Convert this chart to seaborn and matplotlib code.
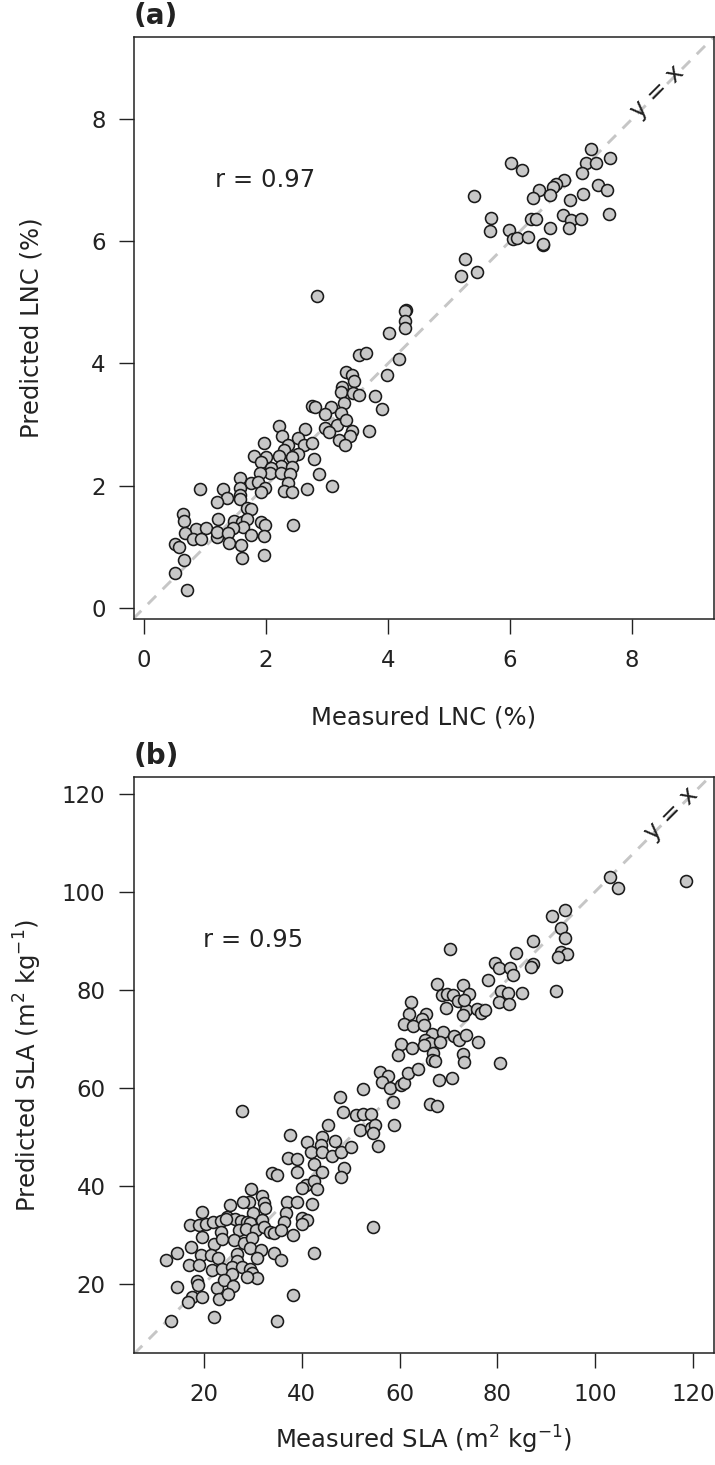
import matplotlib
matplotlib.use("Agg")
import matplotlib.pyplot as plt
import seaborn as sns
import pandas as pd

# Leaf nitrogen content (%): measured vs predicted
lnc_measured = [
    6.02, 6.20, 7.32, 7.24, 7.41, 7.63, 7.17, 6.89, 6.75, 6.71, 6.47, 6.37, 6.65, 6.98,
    7.19, 7.44, 7.58, 5.41, 5.69, 5.67, 5.98, 6.04, 6.11, 6.29, 6.53, 6.53, 6.34, 6.43,
    6.65, 6.87, 6.99, 6.97, 7.16, 7.62, 5.26, 5.19, 5.46, 2.84, 4.30, 4.27, 4.27, 4.27,
    4.01, 3.52, 3.63, 4.18, 3.98, 3.31, 3.41, 3.44, 3.24, 3.22, 3.43, 3.52, 3.78, 3.90,
    3.27, 2.75, 2.81, 3.06, 2.97, 3.23, 3.16, 3.31, 2.97, 3.03, 3.41, 3.38, 3.69, 3.19,
    3.29, 2.21, 2.26, 2.64, 1.96, 2.53, 2.36, 2.30, 2.62, 2.76, 2.53, 1.80, 2.00, 1.91,
    2.21, 2.24, 2.42, 2.43, 2.79, 2.08, 2.06, 1.90, 2.24, 2.40, 2.86, 1.57, 1.76, 1.87,
    2.36, 1.58, 1.99, 1.91, 0.92, 1.30, 2.30, 2.42, 2.67, 3.08, 1.36, 1.20, 1.58, 1.58,
    1.68, 1.75, 0.64, 0.65, 1.21, 1.48, 1.61, 1.69, 1.63, 1.92, 1.99, 2.44, 0.86, 1.02,
    0.68, 0.81, 0.94, 1.19, 1.20, 1.46, 1.38, 1.76, 1.96, 1.39, 1.59, 0.51, 0.58, 0.66,
    1.60, 1.96, 0.50, 0.70,
]
lnc_predicted = [
    7.27, 7.16, 7.51, 7.28, 7.28, 7.36, 7.12, 7.00, 6.93, 6.88, 6.84, 6.70, 6.75, 6.67,
    6.77, 6.91, 6.84, 6.73, 6.38, 6.16, 6.19, 6.04, 6.05, 6.07, 5.93, 5.96, 6.36, 6.37,
    6.22, 6.42, 6.34, 6.21, 6.37, 6.44, 5.70, 5.43, 5.50, 5.10, 4.87, 4.86, 4.69, 4.58,
    4.49, 4.14, 4.17, 4.07, 3.81, 3.86, 3.81, 3.71, 3.62, 3.54, 3.52, 3.48, 3.47, 3.26,
    3.35, 3.31, 3.28, 3.29, 3.17, 3.19, 3.00, 3.08, 2.95, 2.88, 2.89, 2.82, 2.89, 2.74,
    2.66, 2.98, 2.82, 2.93, 2.69, 2.78, 2.67, 2.59, 2.67, 2.69, 2.51, 2.48, 2.47, 2.38,
    2.48, 2.33, 2.47, 2.31, 2.44, 2.29, 2.20, 2.20, 2.20, 2.19, 2.19, 2.13, 2.04, 2.06,
    2.04, 1.96, 1.96, 1.90, 1.95, 1.95, 1.92, 1.90, 1.95, 2.00, 1.80, 1.74, 1.84, 1.79,
    1.63, 1.62, 1.53, 1.42, 1.46, 1.42, 1.41, 1.45, 1.33, 1.41, 1.35, 1.35, 1.29, 1.31,
    1.22, 1.13, 1.12, 1.16, 1.24, 1.31, 1.22, 1.20, 1.18, 1.06, 1.03, 1.05, 0.99, 0.78,
    0.82, 0.87, 0.57, 0.29,
]

# Specific leaf area (m2 kg-1): measured vs predicted
sla_measured = [
    37.7, 41.0, 44.2, 43.9, 46.9, 41.8, 44.2, 46.2, 48.1, 50.0, 37.2, 39.0, 42.5, 44.2,
    39.1, 34.0, 35.0, 48.6, 48.1, 40.8, 40.0, 42.5, 43.2, 29.7, 31.9, 29.2, 28.0, 25.3,
    32.3, 32.4, 37.0, 39.0, 42.2, 36.7, 30.0, 24.8, 19.6, 26.3, 27.5, 28.9, 29.4, 31.9,
    36.4, 40.1, 41.1, 40.1, 17.1, 19.0, 20.5, 21.8, 23.4, 24.6, 23.5, 27.2, 28.7, 30.6,
    32.3, 33.6, 34.3, 35.7, 38.3, 19.7, 22.0, 23.7, 26.1, 28.2, 29.9, 17.3, 29.5, 31.6,
    34.3, 42.5, 14.5, 12.2, 19.3, 21.4, 22.9, 26.7, 26.8, 30.9, 35.7, 16.9, 19.0, 21.7,
    23.7, 25.8, 27.8, 29.4, 29.9, 30.8, 25.8, 28.9, 18.6, 14.4, 18.8, 22.7, 24.1, 26.0,
    17.6, 16.7, 19.7, 23.1, 24.9, 38.3, 13.2, 22.0, 35.0,
    67.6, 72.9, 68.6, 69.8, 71.0, 72.0, 69.5, 73.6, 73.0, 62.3, 62.0, 65.5, 64.5, 60.9,
    62.7, 64.9, 66.6, 68.9, 71.1, 72.2, 73.6, 65.2, 66.2, 68.3, 60.4, 62.5, 65.0, 59.7,
    66.9, 66.6, 67.2, 73.0, 73.2, 56.1, 57.7, 56.5, 58.0, 60.4, 60.9, 61.8, 63.7, 68.1,
    70.8, 52.6, 47.8, 58.6, 66.2, 67.6, 48.4, 51.1, 52.6, 54.1, 45.3, 51.9, 54.1, 55.0,
    54.5, 58.9, 55.5,
    103.0, 104.7, 118.5, 91.1, 93.9, 93.0, 93.8, 87.3, 83.8, 93.0, 94.3, 92.5, 79.6, 80.3,
    82.5, 83.2, 87.3, 86.9, 78.0, 70.3, 74.3, 80.8, 82.1, 85.0, 91.9, 73.2, 80.3, 82.3,
    75.8, 76.7, 77.5, 76.0, 80.6, 27.8, 54.6,
]
sla_predicted = [
    50.3, 49.0, 49.9, 48.3, 49.1, 46.9, 46.9, 46.1, 46.9, 48.0, 45.6, 45.5, 44.4, 42.9,
    42.9, 42.7, 42.2, 43.6, 41.9, 40.2, 39.5, 41.0, 39.3, 39.3, 38.0, 36.6, 36.6, 36.0,
    36.4, 35.4, 36.8, 36.6, 36.3, 34.4, 34.4, 33.6, 34.6, 33.2, 32.9, 32.7, 32.5, 33.0,
    32.7, 33.4, 33.0, 32.3, 32.0, 32.1, 32.2, 32.7, 32.9, 33.2, 30.6, 31.0, 31.2, 31.0,
    31.5, 30.5, 30.3, 31.0, 30.0, 29.6, 28.1, 29.1, 28.9, 28.4, 29.3, 27.6, 27.3, 26.9,
    26.4, 26.2, 26.4, 24.9, 25.9, 25.9, 25.2, 26.1, 24.7, 25.2, 24.9, 23.9, 23.9, 22.8,
    23.0, 23.4, 23.5, 23.0, 22.3, 21.2, 22.0, 21.5, 20.5, 19.3, 19.8, 19.1, 20.8, 19.5,
    17.4, 16.3, 17.3, 16.9, 18.0, 17.8, 12.5, 13.3, 12.5,
    81.1, 81.0, 79.0, 79.2, 78.9, 77.8, 76.3, 75.8, 74.8, 77.5, 75.1, 75.0, 74.1, 73.0,
    72.6, 72.8, 70.9, 71.4, 70.5, 69.7, 70.7, 69.8, 69.2, 69.4, 68.9, 68.2, 68.7, 66.6,
    67.1, 65.6, 65.5, 66.8, 65.3, 63.2, 62.4, 61.2, 59.9, 60.5, 61.0, 63.0, 63.8, 61.6,
    61.9, 59.7, 58.2, 57.1, 56.7, 56.3, 55.1, 54.4, 54.6, 54.6, 52.5, 51.4, 51.7, 52.4,
    50.7, 52.4, 48.1,
    102.9, 100.7, 102.1, 95.0, 96.3, 92.6, 90.5, 89.9, 87.5, 87.6, 87.2, 86.6, 85.5, 84.4,
    84.4, 83.1, 85.3, 84.6, 82.0, 88.4, 79.2, 79.7, 79.4, 79.4, 79.7, 78.0, 77.5, 77.0,
    76.1, 75.3, 75.9, 69.4, 65.1, 55.3, 31.5,
]

lnc = pd.DataFrame({"measured": lnc_measured, "predicted": lnc_predicted})
sla = pd.DataFrame({"measured": sla_measured, "predicted": sla_predicted})

sns.set_theme(style="white")
plt.rcParams["font.family"] = ["DejaVu Sans"]
plt.rcParams["mathtext.fontset"] = "dejavusans"

ink = "#222222"
fig = plt.figure(figsize=(7.15, 14.65), dpi=100)
ax_a = fig.add_axes([0.1874, 0.5775, 0.8112, 0.3973])
ax_b = fig.add_axes([0.1874, 0.07645, 0.8112, 0.3932])

panels = [
    dict(ax=ax_a, df=lnc, xlim=(-0.164, 9.34), ylim=(-0.18, 9.34),
         ticks=[0, 2, 4, 6, 8],
         xlabel="Measured LNC (%)", ylabel="Predicted LNC (%)",
         r="r = 0.97", rpos=(1.16, 7.0), tag="(a)", yx=(8.42, 8.44),
         xlab_y=-0.170, ylab_x=-0.176),
    dict(ax=ax_b, df=sla, xlim=(5.7, 124.3), ylim=(5.9, 123.4),
         ticks=[20, 40, 60, 80, 100, 120],
         xlabel="Measured SLA (m$^{2}$ kg$^{-1}$)",
         ylabel="Predicted SLA (m$^{2}$ kg$^{-1}$)",
         r="r = 0.95", rpos=(19.8, 90.1), tag="(b)", yx=(115.6, 115.9),
         xlab_y=-0.151, ylab_x=-0.183),
]

for p in panels:
    ax = p["ax"]
    lo = min(p["xlim"][0], p["ylim"][0])
    hi = max(p["xlim"][1], p["ylim"][1])
    # 1:1 reference line
    ax.plot([lo, hi], [lo, hi], color="#c6c6c6", lw=2.1, dashes=(4.0, 3.2), zorder=1)
    sns.scatterplot(data=p["df"], x="measured", y="predicted", ax=ax,
                    s=74, color="#c8c8c8", edgecolor="#1a1a1a", linewidth=1.15,
                    zorder=3, legend=False)
    ax.set_xlim(*p["xlim"])
    ax.set_ylim(*p["ylim"])
    ax.set_xticks(p["ticks"])
    ax.set_yticks(p["ticks"])
    ax.tick_params(axis="both", direction="out", length=10.5, width=1.0, color=ink,
                   labelsize=16.5, labelcolor=ink, bottom=True, left=True)
    ax.tick_params(axis="x", pad=11)
    ax.tick_params(axis="y", pad=10)
    for sp in ax.spines.values():
        sp.set_visible(True)
        sp.set_color(ink)
        sp.set_linewidth(1.1)
    ax.set_xlabel(p["xlabel"], fontsize=17.5, color=ink)
    ax.set_ylabel(p["ylabel"], fontsize=17.5, color=ink)
    ax.xaxis.set_label_coords(0.5, p["xlab_y"])
    ax.xaxis.label.set_verticalalignment("center")
    ax.yaxis.set_label_coords(p["ylab_x"], 0.5)
    ax.yaxis.label.set_verticalalignment("center")
    ax.text(p["rpos"][0], p["rpos"][1], p["r"], fontsize=17.5, color=ink,
            ha="left", va="center")
    ax.text(p["yx"][0], p["yx"][1], "y = x", fontsize=17.5, color=ink,
            rotation=45, ha="center", va="center", rotation_mode="anchor", zorder=4)
    ax.text(0.0, 1.012, p["tag"], transform=ax.transAxes, fontsize=20,
            fontweight="bold", color=ink, ha="left", va="bottom")

fig.savefig("out.png", dpi=100)
